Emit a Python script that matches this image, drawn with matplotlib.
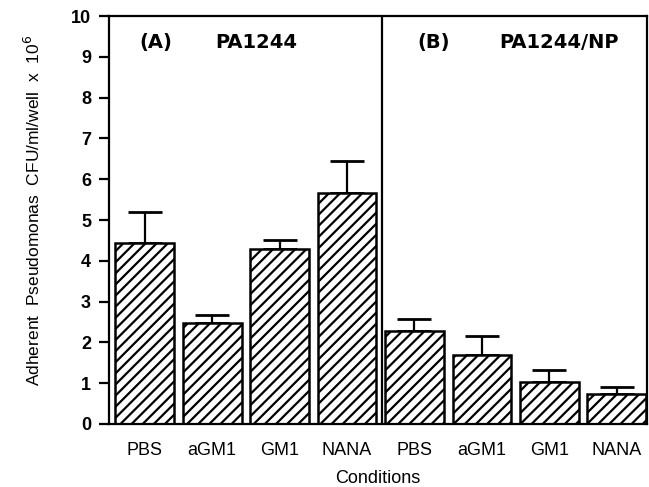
import matplotlib
matplotlib.use("Agg")
import matplotlib.pyplot as plt
import numpy as np

conditions = ["PBS", "aGM1", "GM1", "NANA", "PBS", "aGM1", "GM1", "NANA"]
adherent = [4.43, 2.48, 4.29, 5.65, 2.29, 1.68, 1.04, 0.74]
err_upper = [0.76, 0.19, 0.23, 0.80, 0.28, 0.48, 0.28, 0.17]
panel_labels = [("(A)", "PA1244"), ("(B)", "PA1244/NP")]


def main():
    plt.rcParams['font.family'] = ['Liberation Sans', 'DejaVu Sans']
    plt.rcParams['hatch.linewidth'] = 1.6

    fig = plt.figure(figsize=(6.49, 4.87), dpi=100)
    ax = fig.add_axes([0.168, 0.1294, 0.829, 0.8377])

    x = np.arange(len(conditions))
    ax.bar(x, adherent, width=0.87, color='white', edgecolor='black',
           linewidth=1.8, hatch='///', zorder=2)
    ax.errorbar(x, adherent, yerr=[np.zeros(len(err_upper)), err_upper],
                fmt='none', ecolor='black', elinewidth=1.6, capsize=12,
                capthick=2.0, zorder=1)

    # divider between the two panels
    ax.axvline(3.52, color='black', linewidth=1.6)

    ax.set_xlim(-0.53, 7.45)
    ax.set_ylim(0, 10)
    ax.set_yticks(range(0, 11))
    ax.set_xticks(x)
    ax.set_xticklabels(conditions, fontsize=13)
    ax.tick_params(axis='x', length=0, pad=13)
    ax.tick_params(axis='y', length=7, width=1.6, pad=6, labelsize=13)
    for lab in ax.get_yticklabels():
        lab.set_fontweight('bold')
    for s in ax.spines.values():
        s.set_linewidth(1.6)

    for (tag, strain), tx, sx in zip(panel_labels, [0.057, 0.573], [0.197, 0.725]):
        ax.text(tx, 0.934, tag, transform=ax.transAxes, fontsize=14,
                fontweight='bold', family='DejaVu Sans', va='center')
        ax.text(sx, 0.934, strain, transform=ax.transAxes, fontsize=14,
                fontweight='bold', family='DejaVu Sans', va='center')

    fig.text(0.5 * (0.168 + 0.997), 0.008, "Conditions", ha='center',
             va='baseline', fontsize=13)
    fig.text(0.051, 0.567, "Adherent  Pseudomonas  CFU/ml/well  x  10$^6$",
             rotation=90, ha='center', va='center', fontsize=12.5)

    fig.savefig("out.png", dpi=100)
    plt.close()


if __name__ == '__main__':
    main()
